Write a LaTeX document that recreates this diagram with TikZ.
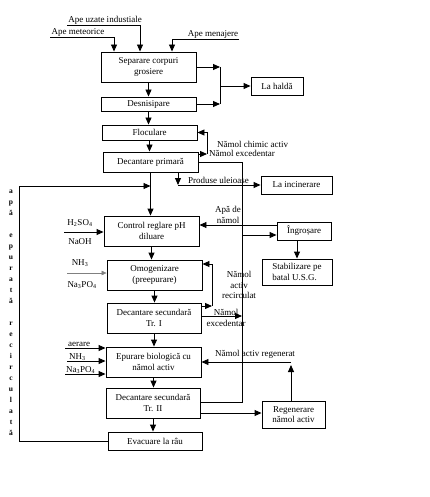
\documentclass[tikz,border=0pt]{standalone}
\usepackage{fontspec}
\setmainfont{Liberation Serif}
\usetikzlibrary{arrows.meta}
\tikzset{
  box/.style={draw, line width=0.9pt, align=center, inner sep=1pt, font=\fontsize{9}{10.5}\selectfont},
  lbl/.style={inner sep=1pt, align=center, font=\fontsize{9}{10.5}\selectfont},
  flow/.style={line width=0.9pt, -{Triangle[length=7pt,width=6pt]}},
  link/.style={line width=0.9pt},
}
\begin{document}
\begin{tikzpicture}[x=1pt, y={(0pt,-1pt)}]
            \useasboundingbox (0,0) rectangle (429,497);

            % main line
            \node[box, minimum width=95pt, minimum height=30pt] (sep) at (148.5,67) {Separare corpuri\\grosiere};
            \node[box, minimum width=95pt, minimum height=14pt] (desn) at (148.5,104) {Desnisipare};
            \node[box, minimum width=95pt, minimum height=15pt] (flocul) at (149.5,132.5) {Floculare};
            \node[box, minimum width=95pt, minimum height=20pt] (decprim) at (150.5,162) {Decantare primară};
            \node[box, minimum width=95pt, minimum height=30pt] (control) at (151.5,231) {Control reglare pH\\diluare};
            \node[box, minimum width=95pt, minimum height=30pt] (omog) at (154.5,275) {Omogenizare\\(preepurare)};
            \node[box, minimum width=94pt, minimum height=30pt] (dectr1) at (154,318) {Decantare secundară\\Tr. I};
            \node[box, minimum width=95pt, minimum height=30pt] (epur) at (153.5,362) {Epurare biologică cu\\nămol activ};
            \node[box, minimum width=94pt, minimum height=30pt] (dectr2) at (153,403) {Decantare secundară\\Tr. II};
            \node[box, minimum width=94pt, minimum height=18pt] (evac) at (155,441) {Evacuare la râu};

            % side boxes
            \node[box, minimum width=52pt, minimum height=18pt] (halda) at (277,86) {La haldă};
            \node[box, minimum width=71pt, minimum height=18pt] (incin) at (296.5,185) {La incinerare};
            \node[box, minimum width=54pt, minimum height=18pt] (ingros) at (304,231) {Îngroșare};
            \node[box, align=left, minimum width=70pt, minimum height=26pt] (stabil) at (297,272) {Stabilizare pe\\batal U.S.G.};
            \node[box, minimum width=63pt, minimum height=27pt] (regen) at (293.5,414.5) {Regenerare\\nămol activ};

            % inflows
            \node[lbl] (ind) at (105,20) {Ape uzate industiale};
            \node[lbl] (meteo) at (78,32) {Ape meteorice};
            \node[lbl] (men) at (213,34) {Ape menajere};
            \draw[flow] (ind.south west) -| ([xshift=-8.5pt]sep.north);
            \draw[flow] (meteo.south west) -| ([xshift=-34.5pt]sep.north);
            \draw[flow] (men.south east) -| ([xshift=23.5pt]sep.north);

            \foreach \a/\b in {sep/desn, desn/flocul, flocul/decprim, decprim/control, control/omog, omog/dectr1, dectr1/epur, epur/dectr2, dectr2/evac}
                \draw[flow] (\a.south) -- (\a.south |- \b.north);

            % la halda
            \coordinate (jh) at (220,86);
            \draw[flow] (sep.east) -- (sep.east -| jh);
            \draw[flow] (desn.east) -- (desn.east -| jh);
            \draw[link] (sep.east -| jh) -- (desn.east -| jh);
            \draw[flow] (jh) -- (halda);

            % namol chimic
            \coordinate (jf) at (207,154);
            \draw[flow] (decprim.east |- jf) -- (jf);
            \draw[flow] (jf) |- (flocul.east);
            \node[lbl, anchor=west] (chim) at (216,144) {Nămol chimic activ};
            \node[lbl, anchor=west] (exc1) at (208,153) {Nămol excedentar};

            % produse uleioase
            \coordinate (ju) at (178,185);
            \draw[flow] (decprim.south -| ju) -- (ju);
            \draw[flow] (ju) -- (incin.west |- ju);
            \node[lbl, anchor=base west] (ulei) at (187,183) {Produse uleioase};

            % namol spre ingrosare
            \coordinate (jn1) at (242,162);
            \coordinate (jn2) at (242,402);
            \draw[link] (decprim.east |- jn1) -- (jn1) -- (jn2) -- (dectr2.east |- jn2);

            % apa recirculata
            \coordinate (jr) at (19,186);
            \draw[flow] (evac.west) -| (jr) -- (decprim.south |- jr);
            \node[font=\bfseries\fontsize{7.5}{11}\selectfont, align=center, inner sep=0pt] (recirc) at (11,313)
                {a\\p\\ă\\[11pt]e\\p\\u\\r\\a\\t\\ă\\[11pt]r\\e\\c\\i\\r\\c\\u\\l\\a\\t\\ă};

            % reactivi
            \node[lbl] (h2so4) at (80,223) {H\textsubscript{2}SO\textsubscript{4}};
            \node[lbl] (naoh) at (80,242) {NaOH};
            \coordinate (inph) at (64,232);
            \draw[flow] (inph) -- (control.west |- inph);

            \node[lbl] (nh3a) at (80,263) {NH\textsubscript{3}};
            \node[lbl] (napo4a) at (82,285) {Na\textsubscript{3}PO\textsubscript{4}};
            \coordinate (inomog) at (67,273);
            \draw[line width=0.5pt, gray, -{Triangle[length=5pt,width=4.5pt]}] (inomog) -- (omog.west |- inomog);

            % namol activ recirculat
            \coordinate (jo) at (212,306);
            \draw[flow] (dectr1.east |- jo) -- (jo);
            \draw[flow] (jo) |- ([yshift=11pt]omog.east);
            \node[lbl] (recirc2) at (239,285) {Nămol\\activ\\recirculat};

            \coordinate (jx) at (242,316);
            \draw[flow] (dectr1.east |- jx) -- (jx);
            \node[lbl] (exc2) at (226,318) {Nămol\\excedentar};

            % ingrosare
            \draw[flow] ([yshift=6pt]ingros.west) -- ([yshift=6pt]ingros.west -| control.east);
            \coordinate (jg) at (242,235);
            \draw[flow] (jg) -- (ingros.west |- jg);
            \node[lbl] (apanamol) at (228,215) {Apă de\\nămol};
            \draw[flow] (stabil.north |- ingros.south) -- (stabil.north);

            % epurare biologica
            \coordinate (inaer) at (65,348);
            \coordinate (innh) at (67,361);
            \coordinate (inna) at (65,374);
            \draw[flow] (inaer) -- (epur.west |- inaer);
            \draw[flow] (innh) -- (epur.west |- innh);
            \draw[flow] (inna) -- (epur.west |- inna);
            \node[lbl, anchor=base west] (aer) at (67,346) {aerare};
            \node[lbl, anchor=base west] (nh3b) at (68,359) {NH\textsubscript{3}};
            \node[lbl, anchor=base west] (napo4b) at (65,372) {Na\textsubscript{3}PO\textsubscript{4}};

            % regenerare
            \coordinate (jreg) at (291,362);
            \draw[flow] (regen.north -| jreg) -- ([yshift=-3pt]jreg);
            \draw[flow] (jreg) -- (epur.east |- jreg);
            \node[lbl] (regtxt) at (255,354) {Nămol activ regenerat};
            \draw[flow] ([yshift=-10pt]dectr2.east) -- ([yshift=-10pt]dectr2.east -| regen.west);
        \end{tikzpicture}
\end{document}
